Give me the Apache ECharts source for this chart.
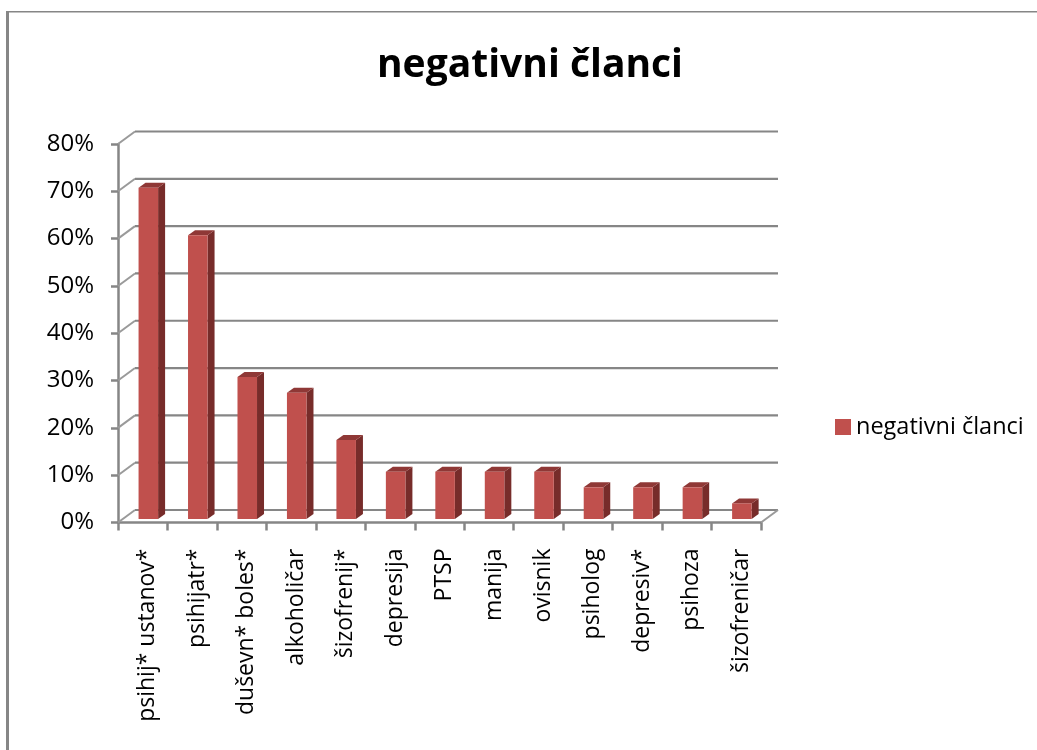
<!DOCTYPE html>
<html><head><meta charset="utf-8">
<style>html,body{margin:0;padding:0;background:#fff}#c{width:1037px;height:750px}</style>
<script src="https://cdn.jsdelivr.net/npm/echarts@6/dist/echarts.min.js"></script></head>
<body><div id="c"></div>
<script>
const titleText = 'negativni članci';
const seriesName = 'negativni članci';
const categories = ['psihij* ustanov*','psihijatr*','duševn* boles*','alkoholičar','šizofrenij*','depresija','PTSP','manija','ovisnik','psiholog','depresiv*','psihoza','šizofreničar'];
const values = [0.70,0.60,0.30,0.267,0.167,0.10,0.10,0.10,0.10,0.067,0.067,0.067,0.033];
const gridTicks = [0,0.1,0.2,0.3,0.4,0.5,0.6,0.7,0.8];

const FONT = '"Open Sans","Noto Sans",sans-serif';
const GRAY = '#868686';
const WALL = [17, -12.5];
const SHIFT = [5.6, -3.5];
const DEPTH = [7, -5];

const chart = echarts.init(document.getElementById('c'));
chart.setOption({
  backgroundColor: '#fff',
  animation: false,
  title: {text: titleText, left: 525, top: 41, textAlign: 'center',
    textStyle: {fontFamily: FONT, fontSize: 39, fontWeight: 'bold', color: '#000'}},
  legend: {data: [seriesName], left: 835, top: 415, padding: 0, itemWidth: 16, itemHeight: 16, icon: 'rect', itemGap: 6,
    textStyle: {fontFamily: FONT, fontSize: 23.5, color: '#000'}},
  grid: {left: 118, top: 144, width: 643, height: 378.5},
  xAxis: {type: 'category', data: categories, boundaryGap: true,
    axisLine: {lineStyle: {color: GRAY, width: 2.5}},
    axisTick: {show: true, alignWithLabel: false, length: 8, lineStyle: {color: GRAY, width: 2.5}},
    axisLabel: {rotate: 90, interval: 0, margin: 26, fontFamily: FONT, fontSize: 23, color: '#000', verticalAlign: 'top', lineHeight: 10}},
  yAxis: {type: 'value', min: 0, max: 0.8, interval: 0.1,
    axisLine: {show: true, lineStyle: {color: GRAY, width: 2.5}},
    axisTick: {show: true, length: 7, lineStyle: {color: GRAY, width: 2.5}},
    splitLine: {show: false},
    axisLabel: {margin: 24, fontFamily: FONT, fontSize: 24, color: '#000',
      formatter: v => Math.round(v * 100) + '%'}},
  graphic: [
    {type: 'rect', shape: {x: 6, y: 11, width: 3, height: 739}, style: {fill: GRAY}, silent: true},
    {type: 'rect', shape: {x: 6, y: 11, width: 1031, height: 1.5}, style: {fill: GRAY}, silent: true}
  ],
  series: [
    {type: 'custom', name: 'walls', coordinateSystem: 'cartesian2d', silent: true, z: 1,
      data: gridTicks.map(v => [0, v]),
      renderItem(params, api) {
        const cs = params.coordSys;
        const y = api.coord([0, api.value(1)])[1];
        const x0 = cs.x, x1 = cs.x + cs.width;
        const isFloor = api.value(1) === 0;
        const children = [
          {type: 'line', shape: {x1: x0, y1: y, x2: x0 + WALL[0], y2: y + WALL[1]},
            style: {stroke: '#9a9a9a', lineWidth: 2}},
          {type: 'line', shape: {x1: x0 + WALL[0], y1: y + WALL[1], x2: x1 + WALL[0], y2: y + WALL[1]},
            style: {stroke: GRAY, lineWidth: 2.2}}
        ];
        if (isFloor) children.push({type: 'line', shape: {x1: x1, y1: y, x2: x1 + WALL[0], y2: y + WALL[1]},
            style: {stroke: '#9a9a9a', lineWidth: 2}});
        return {type: 'group', children};
      }},
    {type: 'custom', name: seriesName, coordinateSystem: 'cartesian2d', silent: true, z: 3,
      itemStyle: {color: '#C0504D'},
      encode: {x: 0, y: 1},
      data: values.map((v, i) => [i, v]),
      renderItem(params, api) {
        const band = api.size([1, 0])[0];
        const w = band * 0.395;
        const base = api.coord([api.value(0), 0]);
        const top = api.coord([api.value(0), api.value(1)]);
        const l = base[0] + SHIFT[0] - w / 2, r = l + w;
        const yb = base[1] + SHIFT[1], yt = top[1] + SHIFT[1];
        const dx = DEPTH[0], dy = DEPTH[1];
        return {type: 'group', children: [
          {type: 'polygon', shape: {points: [[r, yt], [r + dx, yt + dy], [r + dx, yb + dy], [r, yb]]}, style: {fill: '#772C2A'}},
          {type: 'polygon', shape: {points: [[l, yt], [l + dx, yt + dy], [r + dx, yt + dy], [r, yt]]}, style: {fill: '#8F3836'}},
          {type: 'rect', shape: {x: l, y: yt, width: w, height: yb - yt}, style: {fill: '#C0504D'}}
        ]};
      }}
  ]
});
</script></body></html>
